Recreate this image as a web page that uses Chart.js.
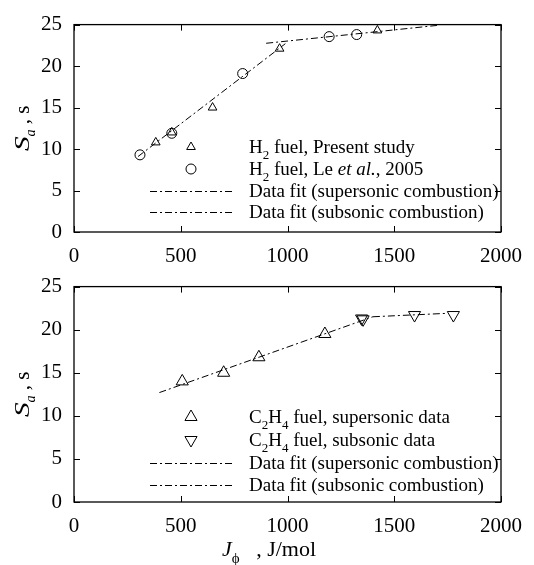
<!DOCTYPE html>
<html>
<head>
<meta charset="utf-8">
<script src="https://cdn.jsdelivr.net/npm/chart.js"></script>
<style>
  body { margin: 0; background: #fff; }
  canvas { display: block; }
</style>
</head>
<body>
<canvas id="chartH2" width="534" height="262"></canvas>
<canvas id="chartC2H4" width="534" height="303"></canvas>
<script>
// H2 fuel
var h2PresentX = [383, 458, 649, 963, 1421];
var h2PresentY = [10.8, 12.0, 15.0, 22.1, 24.3];
var h2LeX = [309, 458, 790, 1195, 1324];
var h2LeY = [9.3, 11.9, 19.1, 23.55, 23.8];
var h2SuperFitX = [300, 990];
var h2SuperFitY = [9.1, 22.7];
var h2SubFitX = [900, 1700];
var h2SubFitY = [22.75, 24.9];

// C2H4 fuel
var c2SuperX = [507, 701, 866, 1175];
var c2SuperY = [14.0, 15.0, 16.8, 19.5];
var c2SubX = [1347, 1354, 1595, 1777];
var c2SubY = [21.3, 21.2, 21.7, 21.7];
var c2SuperFitX = [400, 1400];
var c2SuperFitY = [12.7, 21.5];
var c2SubFitX = [1400, 1750];
var c2SubFitY = [21.5, 21.9];

var xTicks = [0, 500, 1000, 1500, 2000];
var yTicks = [0, 5, 10, 15, 20, 25];

var FONT = '"Liberation Serif", "Times New Roman", serif';
var DASH = [7, 3, 2, 3];

function pts(xs, ys) {
    var out = [];
    for (var i = 0; i < xs.length; i++) out.push({x: xs[i], y: ys[i]});
    return out;
}

// text with italic / subscript pieces: [text, 'n' | 'i' | 'I' (wide italic) | 's' | 'is']
function richText(ctx, x, y, parts, size) {
    var cx = x;
    parts.forEach(function (p) {
        var st = p[1];
        var sub = st == 's' || st == 'is';
        var fs = sub ? Math.round(size * 0.68) : size;
        var ital = st == 'i' || st == 'I' || st == 'is';
        ctx.font = (ital ? 'italic ' : '') + fs + 'px ' + FONT;
        var yy = sub ? y + size * 0.3 : y;
        var w = ctx.measureText(p[0]).width;
        if (st == 'I') {
            ctx.save();
            ctx.translate(cx, yy);
            ctx.scale(1.4, 1);
            ctx.fillText(p[0], 0, 0);
            ctx.restore();
            w = w * 1.4;
        } else {
            ctx.fillText(p[0], cx, yy);
        }
        cx += w;
    });
    return cx - x;
}

function measureRich(ctx, parts, size) {
    var w = 0;
    parts.forEach(function (p) {
        var sub = p[1] == 's' || p[1] == 'is';
        var ital = p[1] == 'i' || p[1] == 'I' || p[1] == 'is';
        ctx.font = (ital ? 'italic ' : '') + (sub ? Math.round(size * 0.68) : size) + 'px ' + FONT;
        w += ctx.measureText(p[0]).width * (p[1] == 'I' ? 1.4 : 1);
    });
    return w;
}

// frame, inward ticks on all four sides, y title and legend
var decor = {
    id: 'decor',
    afterDraw: function (chart, args, opts) {
        var ctx = chart.ctx, a = chart.chartArea;
        var xs = chart.scales.x, ys = chart.scales.y;
        ctx.save();
        ctx.strokeStyle = '#000';
        ctx.lineWidth = 1.3;
        ctx.setLineDash([]);
        ctx.strokeRect(a.left, a.top, a.right - a.left, a.bottom - a.top);
        ctx.lineWidth = 1;
        ctx.beginPath();
        xs.ticks.forEach(function (t) {
            var px = Math.round(xs.getPixelForValue(t.value)) + 0.5;
            ctx.moveTo(px, a.bottom); ctx.lineTo(px, a.bottom - 6);
            ctx.moveTo(px, a.top); ctx.lineTo(px, a.top + 6);
        });
        ys.ticks.forEach(function (t) {
            var py = Math.round(ys.getPixelForValue(t.value)) + 0.5;
            ctx.moveTo(a.left, py); ctx.lineTo(a.left + 6, py);
            ctx.moveTo(a.right, py); ctx.lineTo(a.right - 6, py);
        });
        ctx.stroke();

        ctx.fillStyle = '#000';
        ctx.textBaseline = 'alphabetic';
        ctx.textAlign = 'left';

        // y axis title
        var yTitle = [['S', 'I'], ['a', 'is'], [' , s', 'n']];
        var tw = measureRich(ctx, yTitle, 21);
        ctx.save();
        ctx.translate(29, (a.top + a.bottom) / 2);
        ctx.rotate(-Math.PI / 2);
        richText(ctx, -tw / 2, 0, yTitle, 21);
        ctx.restore();

        // legend
        opts.entries.forEach(function (e, i) {
            var base = opts.rows[i];
            var cy = base - 6;
            var ds = chart.data.datasets[e.ds];
            if (ds.showLine) {
                ctx.save();
                ctx.lineWidth = 1;
                ctx.setLineDash(DASH);
                ctx.beginPath();
                ctx.moveTo(150, cy + 0.5);
                ctx.lineTo(233, cy + 0.5);
                ctx.stroke();
                ctx.restore();
            } else {
                ctx.save();
                ctx.lineWidth = 1;
                ctx.strokeStyle = '#000';
                ctx.fillStyle = 'rgba(0,0,0,0)';
                Chart.helpers.drawPoint(ctx, {
                    pointStyle: ds.pointStyle,
                    radius: ds.pointRadius,
                    rotation: ds.pointRotation || 0,
                    borderWidth: 1
                }, 191, cy);
                ctx.restore();
            }
            ctx.fillStyle = '#000';
            richText(ctx, 249, base, e.text, 19);
        });

        // x axis title
        if (opts.xTitle) {
            richText(ctx, opts.xTitle.x, opts.xTitle.y, opts.xTitle.parts, 22);
        }
        ctx.restore();
    }
};

function fitLine(xs, ys) {
    return {
        data: pts(xs, ys),
        showLine: true,
        pointRadius: 0,
        borderColor: '#000',
        borderWidth: 1,
        borderDash: DASH,
        fill: false
    };
}

function markers(xs, ys, style, r, rot) {
    return {
        data: pts(xs, ys),
        showLine: false,
        pointStyle: style,
        pointRadius: r,
        pointHoverRadius: r,
        pointRotation: rot || 0,
        borderColor: '#000',
        borderWidth: 1,
        backgroundColor: 'rgba(0,0,0,0)'
    };
}

function plainNum(v) {
    return String(v);
}

function makeOptions(padTop, xHeight, legend) {
    return {
        responsive: false,
        animation: false,
        layout: {padding: {left: 0, right: 27, top: padTop, bottom: 0}},
        plugins: {
            legend: {display: false},
            tooltip: {enabled: false},
            decor: legend
        },
        scales: {
            x: {
                type: 'linear',
                min: 0,
                max: 2000,
                afterFit: function (s) { s.height = xHeight; },
                afterBuildTicks: function (s) { s.ticks = xTicks.map(function (v) { return {value: v}; }); },
                grid: {display: false, drawTicks: false},
                border: {display: false},
                ticks: {color: '#000', padding: 12, font: {family: FONT, size: 21}, callback: plainNum}
            },
            y: {
                type: 'linear',
                min: 0,
                max: 25,
                afterFit: function (s) { s.width = 74; },
                afterBuildTicks: function (s) { s.ticks = yTicks.map(function (v) { return {value: v}; }); },
                grid: {display: false, drawTicks: false},
                border: {display: false},
                ticks: {color: '#000', padding: 12, font: {family: FONT, size: 21}, callback: plainNum}
            }
        }
    };
}

var h2Chart = new Chart(document.getElementById('chartH2'), {
    type: 'scatter',
    data: {
        datasets: [
            markers(h2PresentX, h2PresentY, 'triangle', 5),
            markers(h2LeX, h2LeY, 'circle', 5),
            fitLine(h2SuperFitX, h2SuperFitY),
            fitLine(h2SubFitX, h2SubFitY)
        ]
    },
    options: makeOptions(13, 30, {
        rows: [153, 175, 197, 218],
        entries: [
            {ds: 0, text: [['H', 'n'], ['2', 's'], [' fuel, Present study', 'n']]},
            {ds: 1, text: [['H', 'n'], ['2', 's'], [' fuel, Le ', 'n'], ['et al.', 'i'], [', 2005', 'n']]},
            {ds: 2, text: [['Data fit (supersonic combustion)', 'n']]},
            {ds: 3, text: [['Data fit (subsonic combustion)', 'n']]}
        ]
    }),
    plugins: [decor]
});

var c2Chart = new Chart(document.getElementById('chartC2H4'), {
    type: 'scatter',
    data: {
        datasets: [
            markers(c2SuperX, c2SuperY, 'triangle', 7),
            markers(c2SubX, c2SubY, 'triangle', 7, 180),
            fitLine(c2SuperFitX, c2SuperFitY),
            fitLine(c2SubFitX, c2SubFitY)
        ]
    },
    options: makeOptions(20, 63, {
        rows: [161, 184, 207, 229],
        entries: [
            {ds: 0, text: [['C', 'n'], ['2', 's'], ['H', 'n'], ['4', 's'], [' fuel, supersonic data', 'n']]},
            {ds: 1, text: [['C', 'n'], ['2', 's'], ['H', 'n'], ['4', 's'], [' fuel, subsonic data', 'n']]},
            {ds: 2, text: [['Data fit (supersonic combustion)', 'n']]},
            {ds: 3, text: [['Data fit (subsonic combustion)', 'n']]}
        ],
        xTitle: {x: 222, y: 294, parts: [['J', 'i'], ['\u03d5', 's'], ['   , J/mol', 'n']]}
    }),
    plugins: [decor]
});
</script>
</body>
</html>
